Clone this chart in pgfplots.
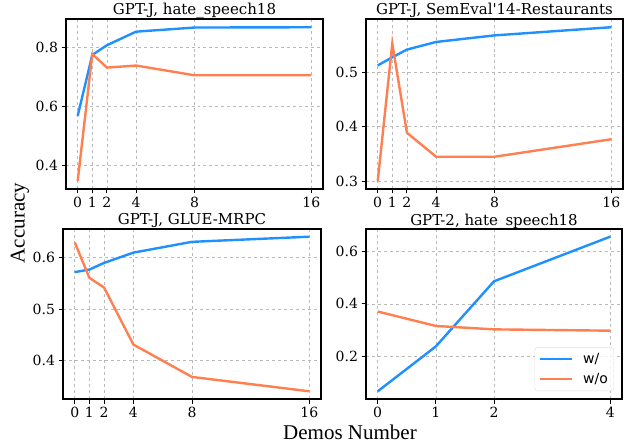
\documentclass[border=0pt]{standalone}
\usepackage{pgfplots}
\pgfplotsset{compat=1.18}
\usepackage{fontspec}
\setmainfont{Liberation Serif}
\newfontfamily\djs{DejaVu Serif}
\newfontfamily\djsans{DejaVu Sans}
\definecolor{cblue}{RGB}{30,144,255}
\definecolor{corange}{RGB}{255,127,80}
\pgfplotsset{
 every axis title shift=0pt,
 panel/.style={
  scale only axis, width=257bp, height=170bp, anchor=south west,
  axis line style={line width=1.8bp, black},
  grid=major, major grid style={dashed, gray!55, line width=0.6bp},
  tick align=outside, xtick pos=bottom, ytick pos=left,
  major tick length=4.5bp, tick style={black, line width=0.8bp},
  /pgf/number format/assume math mode=true,
  /pgf/number format/fixed,
  tick label style={font=\djs\fontsize{14bp}{16bp}\selectfont},
  title style={font=\djs\fontsize{15bp}{17bp}\selectfont, at={(0.5,1)}, anchor=base, yshift=4bp, inner sep=0pt},
  every axis plot/.append style={line width=2.4bp, no markers},
 },
 demos/.style={xmin=-0.8, xmax=16.8, xtick={0,1,2,4,8,16}},
}
\begin{document}
\begin{tikzpicture}
\useasboundingbox (0,0) rectangle (633bp,445bp);
% Panel 1
\begin{axis}[panel, demos, at={(66bp,256bp)}, ymin=0.319, ymax=0.896, ytick={0.4,0.6,0.8},
  title={GPT-J, hate\_speech18}]
\addplot[cblue] coordinates {(0,0.567) (1,0.774) (2,0.807) (4,0.853) (8,0.867) (16,0.868)};
\addplot[corange] coordinates {(0,0.346) (1,0.777) (2,0.731) (4,0.738) (8,0.705) (16,0.705)};
\end{axis}
% Panel 2
\begin{axis}[panel, demos, at={(366bp,256bp)}, ymin=0.286, ymax=0.597, ytick={0.3,0.4,0.5},
  title={GPT-J, SemEval'14-Restaurants}]
\addplot[cblue] coordinates {(0,0.512) (1,0.527) (2,0.541) (4,0.555) (8,0.567) (16,0.582)};
\addplot[corange] coordinates {(0,0.300) (1,0.552) (2,0.389) (4,0.345) (8,0.345) (16,0.377)};
\end{axis}
% Panel 3
\begin{axis}[panel, demos, width=258bp, at={(63bp,46bp)}, ymin=0.325, ymax=0.656, ytick={0.4,0.5,0.6},
  title={GPT-J, GLUE-MRPC}]
\addplot[cblue] coordinates {(0,0.572) (1,0.577) (2,0.590) (4,0.610) (8,0.631) (16,0.641)};
\addplot[corange] coordinates {(0,0.630) (1,0.561) (2,0.542) (4,0.431) (8,0.368) (16,0.340)};
\end{axis}
% Panel 4
\begin{axis}[panel, width=256bp, at={(366bp,46bp)}, xmin=-0.2, xmax=4.2, xtick={0,1,2,4},
  ymin=0.038, ymax=0.685, ytick={0.2,0.4,0.6},
  title={GPT-2, hate\_speech18},
  legend style={at={(0.969,0.047)}, anchor=south east, draw=gray!25, rounded corners=3bp,
    fill=white, fill opacity=0.8, text opacity=1, draw opacity=1,
    font=\djsans\fontsize{14bp}{16bp}\selectfont, row sep=4bp, inner xsep=4bp, inner ysep=4bp},
  legend cell align=left,
  legend image code/.code={\draw[#1, line width=2.4bp] (0bp,0bp) -- (32bp,0bp); \path (40bp,0bp);}]
\addplot[cblue] coordinates {(0,0.067) (1,0.238) (2,0.486) (4,0.656)};
\addlegendentry{w/}
\addplot[corange] coordinates {(0,0.371) (1,0.316) (2,0.303) (4,0.298)};
\addlegendentry{w/o}
\end{axis}
\node[rotate=90, font=\fontsize{21bp}{24bp}\selectfont] at (20bp,222bp) {Accuracy};
\node[font=\fontsize{21bp}{24bp}\selectfont] at (350bp,13bp) {Demos Number};
\end{tikzpicture}
\end{document}
